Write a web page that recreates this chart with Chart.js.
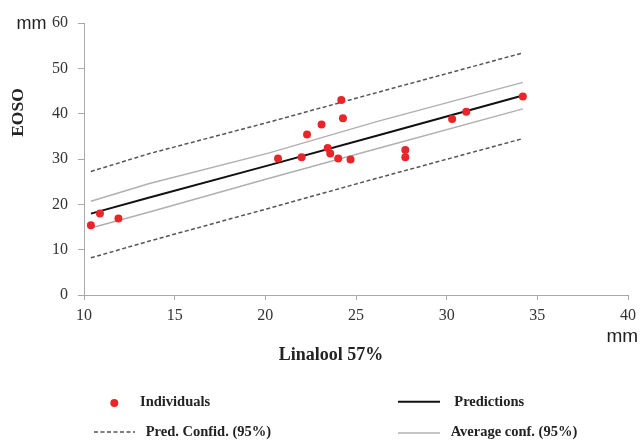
<!DOCTYPE html>
<html><head><meta charset="utf-8">
<script src="https://cdn.jsdelivr.net/npm/chart.js@4.4.1/dist/chart.umd.min.js"></script>
<style>html,body{margin:0;padding:0;background:#fff}#wrap{width:642px;height:440px}</style>
</head><body><div id="wrap"><canvas id="c" width="642" height="440"></canvas></div>
<script>
// ---- data ----
const indivX = [10.38, 10.88, 11.9, 20.7, 22.0, 22.3, 23.1, 24.19, 24.28, 23.44, 23.58, 24.02, 24.7, 27.72, 27.72, 30.3, 31.08, 34.2];
const indivY = [15.4, 18.0, 16.9, 30.1, 30.4, 35.4, 37.6, 43.0, 39.0, 32.4, 31.2, 30.1, 29.9, 32.0, 30.4, 38.8, 40.4, 43.8];
const lineX = [10.38, 13.61, 20.17, 26.19, 34.2];
const predY = [17.95, 21.5, 28.6, 35.2, 44.0];
const predConfUpper = [27.25, 31.2, 38.1, 44.7, 53.4];
const predConfLower = [8.2, 11.9, 19.1, 25.8, 34.5];
const avgConfUpper = [20.66, 24.6, 31.3, 38.3, 46.9];
const avgConfLower = [14.8, 18.3, 25.7, 32.3, 41.06];
const xTicks = [10, 15, 20, 25, 30, 35, 40];
const yTicks = [0, 10, 20, 30, 40, 50, 60];
const labels = {
  indiv: 'Individuals', pred: 'Predictions',
  predConf: 'Pred. Confid. (95%)', avgConf: 'Average conf. (95%)',
  xTitle: 'Linalool 57%', yTitle: 'EOSO', unit: 'mm'
};

const SERIF = '"Liberation Serif", "Times New Roman", serif';
const SANS = '"Liberation Sans", Arial, sans-serif';
const RED = '#e8262a';
const GRAY = '#b0b0b0';
const DASH = '#555555';
const AXIS = '#a8a8a8';

const pts = (xs, ys) => xs.map((x, i) => ({x: x, y: ys[i]}));

const lineDs = (label, ys, color, width, dash) => ({
  type: 'line', label: label, data: pts(lineX, ys),
  borderColor: color, backgroundColor: color, borderWidth: width,
  borderDash: dash || [], pointRadius: 0, tension: 0, fill: false
});

const datasets = [
  {type: 'scatter', label: labels.indiv, data: pts(indivX, indivY),
   backgroundColor: RED, borderColor: RED, borderWidth: 0, pointRadius: 4, pointHoverRadius: 4},
  lineDs(labels.pred, predY, '#111111', 2),
  lineDs(labels.avgConf, avgConfUpper, GRAY, 1.5),
  lineDs(labels.avgConf, avgConfLower, GRAY, 1.5),
  lineDs(labels.predConf, predConfUpper, DASH, 1.5, [4, 2.5]),
  lineDs(labels.predConf, predConfLower, DASH, 1.5, [4, 2.5])
];

const textPlugin = {
  id: 'textPlugin',
  afterDraw(chart) {
    const ctx = chart.ctx;
    ctx.save();
    ctx.fillStyle = '#222';
    // y title
    ctx.save();
    ctx.translate(18.5, 112.5);
    ctx.rotate(-Math.PI / 2);
    ctx.font = 'bold 17.5px ' + SERIF;
    ctx.textAlign = 'center'; ctx.textBaseline = 'middle';
    ctx.fillText(labels.yTitle, 0, 0);
    ctx.restore();
    // x title
    ctx.font = 'bold 18px ' + SERIF;
    ctx.textAlign = 'center'; ctx.textBaseline = 'middle';
    ctx.fillText(labels.xTitle, 331, 355);
    // units
    ctx.font = '18px ' + SANS;
    ctx.textAlign = 'left';
    ctx.fillText(labels.unit, 16.5, 24);
    ctx.font = '19px ' + SANS;
    ctx.fillText(labels.unit, 606.5, 337);
    // legend
    const lf = 'bold 14.5px ' + SERIF;
    ctx.font = lf;
    // Individuals
    ctx.fillStyle = RED;
    ctx.beginPath(); ctx.arc(114.3, 403, 4, 0, Math.PI * 2); ctx.fill();
    ctx.fillStyle = '#222';
    ctx.fillText(labels.indiv, 140, 402);
    // Predictions
    ctx.strokeStyle = '#111'; ctx.lineWidth = 2; ctx.setLineDash([]);
    ctx.beginPath(); ctx.moveTo(398, 401.7); ctx.lineTo(440, 401.7); ctx.stroke();
    ctx.fillText(labels.pred, 454.3, 402);
    // Pred conf
    ctx.strokeStyle = DASH; ctx.lineWidth = 1.5; ctx.setLineDash([4, 2.5]);
    ctx.beginPath(); ctx.moveTo(94, 432); ctx.lineTo(135, 432); ctx.stroke();
    ctx.setLineDash([]);
    ctx.fillText(labels.predConf, 145.7, 432);
    // Avg conf
    ctx.strokeStyle = GRAY; ctx.lineWidth = 1.5;
    ctx.beginPath(); ctx.moveTo(398, 433); ctx.lineTo(440, 433); ctx.stroke();
    ctx.fillText(labels.avgConf, 450.7, 432.5);
    ctx.restore();
  }
};

new Chart(document.getElementById('c'), {
  data: {datasets: datasets},
  options: {
    responsive: false, animation: false, devicePixelRatio: 1,
    layout: {padding: {top: 23, right: 9, left: 0, bottom: 0}},
    plugins: {legend: {display: false}, tooltip: {enabled: false}},
    scales: {
      x: {
        type: 'linear', min: 10, max: 40,
        afterBuildTicks: s => { s.ticks = xTicks.map(v => ({value: v})); },
        afterFit: s => { s.height = 145; },
        ticks: {font: {family: SERIF, size: 16}, color: '#333', padding: 6},
        grid: {drawOnChartArea: false, drawTicks: true, tickLength: 5, color: AXIS},
        border: {color: AXIS, width: 1}
      },
      y: {
        type: 'linear', min: 0, max: 60,
        afterBuildTicks: s => { s.ticks = yTicks.map(v => ({value: v})); },
        afterFit: s => { s.width = 84; },
        ticks: {font: {family: SERIF, size: 16}, color: '#333', padding: 10},
        grid: {drawOnChartArea: false, drawTicks: true, tickLength: 6, color: AXIS},
        border: {color: AXIS, width: 1}
      }
    }
  },
  plugins: [textPlugin]
});
</script></body></html>
